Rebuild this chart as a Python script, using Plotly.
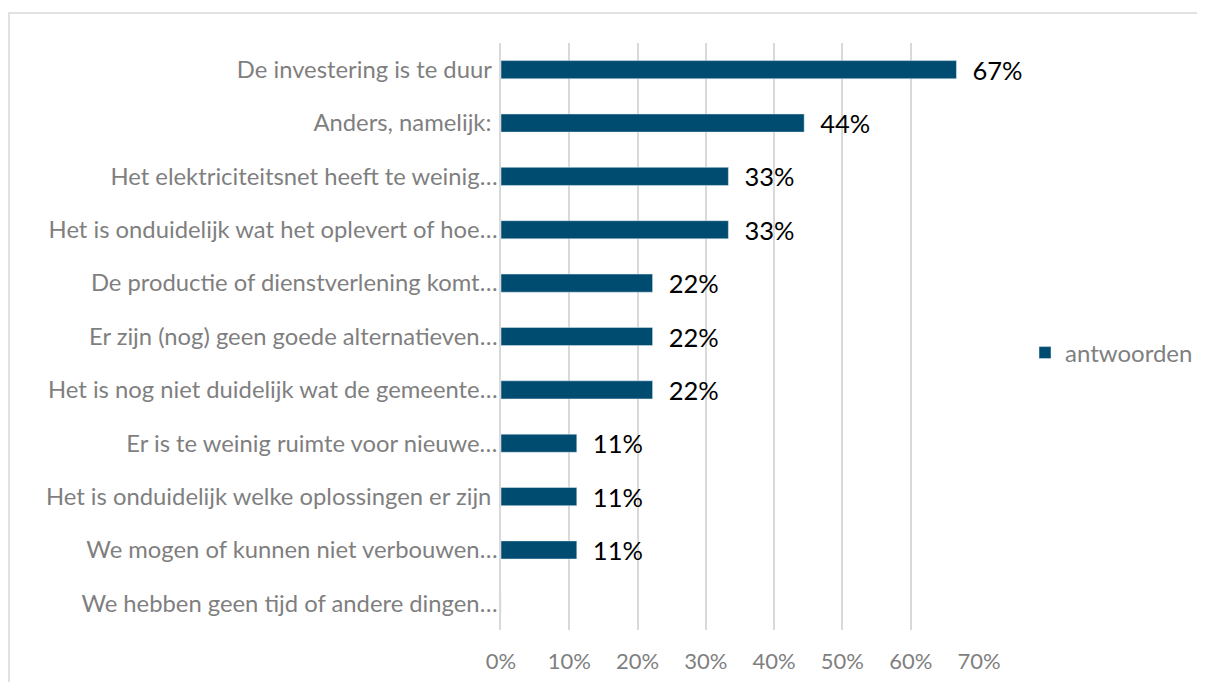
import plotly.graph_objects as go

categories = [
    "De investering is te duur ",
    "Anders, namelijk: ",
    "Het elektriciteitsnet heeft te weinig…",
    "Het is onduidelijk wat het oplevert of hoe…",
    "De productie of dienstverlening komt…",
    "Er zijn (nog) geen goede alternatieven…",
    "Het is nog niet duidelijk wat de gemeente…",
    "Er is te weinig ruimte voor nieuwe…",
    "Het is onduidelijk welke oplossingen er zijn ",
    "We mogen of kunnen niet verbouwen…",
    "We hebben geen tijd of andere dingen…",
]
values = [0.667, 0.444, 0.333, 0.333, 0.222, 0.222, 0.222, 0.111, 0.111, 0.111, 0.0]
value_labels = ["67%", "44%", "33%", "33%", "22%", "22%", "22%", "11%", "11%", "11%", ""]
x_ticks = [0, 0.1, 0.2, 0.3, 0.4, 0.5, 0.6, 0.7]
x_tick_labels = ["0%", "10%", "20%", "30%", "40%", "50%", "60%", "70%"]
series_name = "antwoorden"

FONT = "Lato, 'Open Sans', sans-serif"
W, H = 1197, 674
L, R, T, B = 493, 226, 35, 52
pw, ph = W - L - R, H - T - B

fig = go.Figure()
fig.add_trace(go.Bar(
    y=categories, x=values, orientation="h", name=series_name,
    marker=dict(color="#004C70"),
    text=value_labels, texttemplate="\u00a0\u00a0%{text}",
    textposition="outside", constraintext="none",
    textfont=dict(family=FONT, size=25.5, color="#000000"),
    cliponaxis=False, showlegend=True,
))

fig.update_layout(
    width=W, height=H,
    margin=dict(l=L, r=R, t=T, b=B, autoexpand=False),
    paper_bgcolor="white", plot_bgcolor="white",
    bargap=0.66,
    font=dict(family=FONT, color="#7F7F7F"),
    xaxis=dict(range=[0, 0.7], tickvals=x_ticks, ticktext=x_tick_labels,
               showgrid=True, gridcolor="#D9D9D9", gridwidth=1.5,
               zeroline=False, showline=False, automargin=False,
               tickfont=dict(family=FONT, size=22, color="#7F7F7F"),
               ticks="", ticklen=0, ticklabelstandoff=16),
    yaxis=dict(autorange="reversed", showgrid=False, zeroline=False,
               showline=True, linecolor="#D9D9D9", linewidth=1.5, automargin=False,
               tickfont=dict(family=FONT, size=23.8, color="#7F7F7F"),
               ticks="", ticklen=0, ticklabelstandoff=-3),
    legend=dict(x=(1017 - L) / pw, y=(H - B - 345) / ph, xanchor="left", yanchor="middle",
                font=dict(family=FONT, size=24, color="#7F7F7F"),
                itemwidth=30, bgcolor="rgba(0,0,0,0)"),
    shapes=[dict(type="rect", xref="paper", yref="paper",
                 x0=(1 - L) / pw, x1=(W + 20 - L) / pw,
                 y0=(H - B - (H + 20)) / ph, y1=(H - B - 5) / ph,
                 line=dict(color="#D9D9D9", width=1.5), layer="below")],
)

fig.write_html("out.html")
